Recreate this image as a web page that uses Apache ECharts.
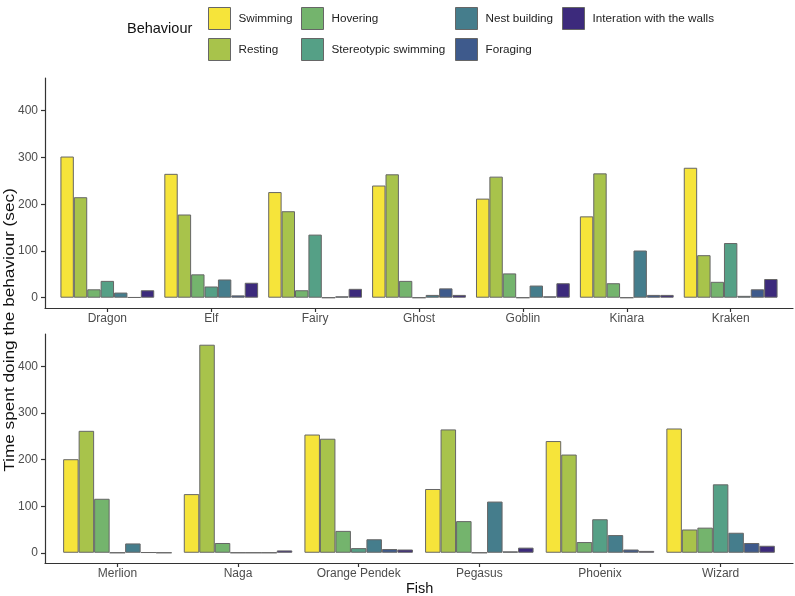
<!DOCTYPE html>
<html>
<head>
<meta charset="utf-8">
<script src="https://cdn.jsdelivr.net/npm/echarts@6/dist/echarts.min.js"></script>
<style>html,body{margin:0;padding:0;background:#fff}#c{width:795px;height:596px}</style>
</head>
<body>
<div id="c"></div>
<script>
const fishTop = ['Dragon','Elf','Fairy','Ghost','Goblin','Kinara','Kraken'];
const fishBottom = ['Merlion','Naga','Orange Pendek','Pegasus','Phoenix','Wizard'];
const behaviours = ['Swimming','Resting','Hovering','Stereotypic swimming','Nest building','Foraging','Interation with the walls'];
const yTicks = [0,100,200,300,400];

// top panel values (order of fishTop)
const swimmingTop = [302,265,226,240,212,174,278];
const restingTop  = [215,178,185,264,259,266,91];
const hoveringTop = [18,50,16,36,52,31,34];
const stereoTop   = [36,24,135,0,0,0,117];
const nestTop     = [11,39,0,6,26,101,4];
const foragingTop = [1,5,3,20,3,6,18];
const wallsTop    = [16,32,19,6,31,6,40];

// bottom panel values (order of fishBottom)
const swimmingBottom = [201,126,254,137,240,267];
const restingBottom  = [262,447,245,265,211,50];
const hoveringBottom = [116,21,47,68,23,54];
const stereoBottom   = [0,0,10,0,72,147];
const nestBottom     = [20,0,29,110,38,43];
const foragingBottom = [1,0,8,3,7,21];
const wallsBottom    = [0,5,7,11,4,15];

const topValues = [swimmingTop,restingTop,hoveringTop,stereoTop,nestTop,foragingTop,wallsTop];
const bottomValues = [swimmingBottom,restingBottom,hoveringBottom,stereoBottom,nestBottom,foragingBottom,wallsBottom];
const colors = ['#F6E43A','#A8C34B','#74B46D','#55A086','#457D8C','#3E5A8C','#3C2A7C'];

const FONT = 'Liberation Sans, Arial, sans-serif';
const chart = echarts.init(document.getElementById('c'), null, {renderer:'canvas'});

function xAxisFor(names, gridIndex){
  const ticks = names.map((_, i) => i + 1);
  return {
    type:'value', gridIndex, min:0.4, max:names.length + 0.6,
    splitLine:{show:false},
    axisLine:{show:true, onZero:false, lineStyle:{color:'#333', width:1.2}},
    axisTick:{show:true, customValues:ticks, length:4, lineStyle:{color:'#333', width:1.2}},
    axisLabel:{customValues:ticks, margin:5, color:'#4d4d4d', fontSize:12, fontFamily:FONT,
      formatter:v => names[Math.round(v) - 1] || ''}
  };
}
function yAxisFor(gridIndex){
  return {
    type:'value', gridIndex, min:-22, max:470,
    splitLine:{show:false},
    axisLine:{show:true, onZero:false, lineStyle:{color:'#333', width:1.2}},
    axisTick:{show:true, customValues:yTicks, length:4, lineStyle:{color:'#333', width:1.2}},
    axisLabel:{customValues:yTicks, margin:7, color:'#4d4d4d', fontSize:12, fontFamily:FONT}
  };
}

const series = [];
behaviours.forEach((b, k) => {
  series.push({
    name:b, type:'bar', xAxisIndex:0, yAxisIndex:0, barWidth:13.4, barGap:'0%',
    itemStyle:{color:colors[k], borderColor:'#666', borderWidth:1},
    data: topValues[k].map((v, i) => [i + 1, v])
  });
});
behaviours.forEach((b, k) => {
  series.push({
    name:b, type:'bar', xAxisIndex:1, yAxisIndex:1, barWidth:15.5, barGap:'0%',
    itemStyle:{color:colors[k], borderColor:'#666', borderWidth:1},
    data: bottomValues[k].map((v, i) => [i + 1, v])
  });
});

function legendCol(items, left){
  return {
    orient:'vertical', left, top:2, itemWidth:22, itemHeight:22, itemGap:8,
    selectedMode:false, icon:'rect', data:items,
    itemStyle:{borderColor:'#666', borderWidth:1},
    textStyle:{fontSize:11.7, color:'#222', fontFamily:FONT, padding:[0,0,0,3]}
  };
}

chart.setOption({
  animation:false,
  backgroundColor:'#fff',
  grid:[
    {left:45, right:2, top:78, height:230},
    {left:45, right:2, top:334, height:229}
  ],
  xAxis:[xAxisFor(fishTop,0), xAxisFor(fishBottom,1)],
  yAxis:[yAxisFor(0), yAxisFor(1)],
  legend:[
    legendCol([behaviours[0],behaviours[1]], 203),
    legendCol([behaviours[2],behaviours[3]], 296),
    legendCol([behaviours[4],behaviours[5]], 450),
    legendCol([behaviours[6]], 557)
  ],
  graphic:[
    {type:'text', left:127, top:21, style:{text:'Behaviour', fontSize:14.5, fill:'#111', fontFamily:FONT}},
    {type:'text', x:10, y:330, rotation:Math.PI/2, scaleX:1.23, scaleY:1,
      style:{text:'Time spent doing the behaviour (sec)', fontSize:14, fill:'#111', fontFamily:FONT,
        align:'center', verticalAlign:'middle'}},
    {type:'text', left:406, top:581, style:{text:'Fish', fontSize:14.5, fill:'#111', fontFamily:FONT}}
  ],
  series
});
</script>
</body>
</html>
